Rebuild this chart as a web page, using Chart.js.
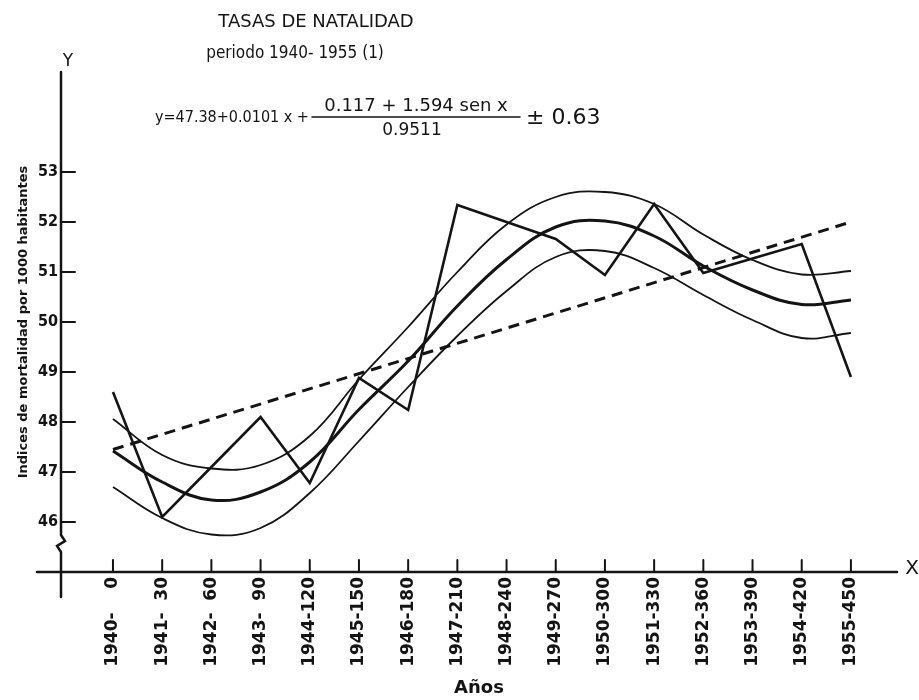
<!DOCTYPE html>
<html>
<head>
<meta charset="utf-8">
<script src="https://cdn.jsdelivr.net/npm/chart.js@4.4.1/dist/chart.umd.min.js"></script>
<style>
  html, body { margin: 0; padding: 0; background: #fff; }
  canvas { display: block; }
</style>
</head>
<body>
<canvas id="natalidad-chart" width="919" height="700"></canvas>
<script>
// valores
const years = ['1940', '1941', '1942', '1943', '1944', '1945', '1946', '1947', '1948', '1949', '1950', '1951', '1952', '1953', '1954', '1955'];
const xValues = [0, 30, 60, 90, 120, 150, 180, 210, 240, 270, 300, 330, 360, 390, 420, 450];
const observed = [48.6, 46.1, 47.1, 48.1, 46.78, 48.88, 48.24, 52.34, 52.0, 51.66, 50.94, 52.36, 50.98, 51.27, 51.56, 48.9];
const fitted = [47.42, 46.8, 46.44, 46.6, 47.2, 48.25, 49.22, 50.32, 51.25, 51.9, 52.02, 51.72, 51.12, 50.64, 50.35, 50.44];
const fittedUpper = [48.06, 47.34, 47.07, 47.14, 47.72, 48.85, 49.9, 51.0, 51.95, 52.5, 52.6, 52.36, 51.75, 51.24, 50.95, 51.02];
const fittedLower = [46.7, 46.08, 45.75, 45.88, 46.58, 47.62, 48.7, 49.72, 50.62, 51.3, 51.42, 51.08, 50.54, 50.04, 49.68, 49.78];
const trendX = [0, 450];
const trendY = [47.45, 52.0];
const yTicks = [46, 47, 48, 49, 50, 51, 52, 53];

const INK = '#141414';
const FONT = '"DejaVu Sans"';
const FONT_NARROW = '"DejaVu Sans Condensed", "DejaVu Sans"';

function points(xs, ys) {
	return xs.map((x, i) => ({ x: x, y: ys[i] }));
}

function tickLabel(i) {
	return years[i] + '-' + String(xValues[i]).padStart(3, '\u2007');
}

const ejes = {
	id: 'ejes',
	beforeDraw(chart) {
		const ctx = chart.ctx;
		ctx.save();
		ctx.fillStyle = '#fff';
		ctx.fillRect(0, 0, chart.width, chart.height);
		ctx.restore();
	},
	afterDraw(chart) {
		const { ctx, chartArea, scales: { x, y } } = chart;
		const ax = chartArea.left;
		const ay = y.getPixelForValue(45);
		ctx.save();
		ctx.strokeStyle = INK;
		ctx.fillStyle = INK;
		ctx.lineCap = 'round';

		// eje X
		ctx.lineWidth = 2.5;
		ctx.beginPath();
		ctx.moveTo(ax - 24, ay);
		ctx.lineTo(chartArea.right, ay);
		ctx.stroke();

		// eje Y con corte
		const zTop = y.getPixelForValue(45.74);
		const zBot = y.getPixelForValue(45.4);
		ctx.beginPath();
		ctx.moveTo(ax, chartArea.top);
		ctx.lineTo(ax, zTop);
		ctx.lineTo(ax + 4, zTop + 6);
		ctx.lineTo(ax - 4, zTop + 11);
		ctx.lineTo(ax, zBot);
		ctx.lineTo(ax, ay + 25);
		ctx.stroke();

		// marcas
		ctx.lineWidth = 2;
		xValues.forEach(v => {
			const px = x.getPixelForValue(v);
			ctx.beginPath();
			ctx.moveTo(px, ay);
			ctx.lineTo(px, ay - 12);
			ctx.stroke();
		});
		yTicks.forEach(v => {
			const py = y.getPixelForValue(v);
			ctx.beginPath();
			ctx.moveTo(ax, py);
			ctx.lineTo(ax + 14, py);
			ctx.stroke();
		});

		// letras de los ejes
		ctx.textAlign = 'center';
		ctx.textBaseline = 'middle';
		ctx.font = '17px ' + FONT;
		ctx.fillText('Y', ax + 7, chartArea.top - 10);
		ctx.font = '20px ' + FONT;
		ctx.fillText('X', chartArea.right + 15, ay - 3);

		// titulo y ecuacion
		ctx.textBaseline = 'alphabetic';
		ctx.font = '18px ' + FONT;
		ctx.fillText('TASAS DE NATALIDAD', 316, 27);
		ctx.font = '17px ' + FONT_NARROW;
		ctx.fillText('periodo 1940- 1955 (1)', 295, 58);

		ctx.textAlign = 'left';
		ctx.font = '16px ' + FONT_NARROW;
		ctx.fillText('y=47.38+0.0101 x +', 155, 122);
		ctx.font = '22px ' + FONT;
		ctx.fillText('\u00b1 0.63', 526, 124);
		ctx.textAlign = 'center';
		ctx.font = '18px ' + FONT;
		ctx.fillText('0.117 + 1.594 sen x', 416, 111);
		ctx.font = '17px ' + FONT;
		ctx.fillText('0.9511', 412, 135);
		ctx.lineWidth = 1.5;
		ctx.beginPath();
		ctx.moveTo(312, 117);
		ctx.lineTo(520, 117);
		ctx.stroke();
		ctx.restore();
	}
};

const config = {
	type: 'line',
	data: {
		datasets: [
			{ label: 'Tasa observada', data: points(xValues, observed), borderWidth: 2.6, tension: 0 },
			{ label: 'Curva ajustada', data: points(xValues, fitted), borderWidth: 3, tension: 0.4 },
			{ label: 'Limite superior', data: points(xValues, fittedUpper), borderWidth: 1.8, tension: 0.4 },
			{ label: 'Limite inferior', data: points(xValues, fittedLower), borderWidth: 1.8, tension: 0.4 },
			{ label: 'Tendencia', data: points(trendX, trendY), borderWidth: 3, borderDash: [11, 7], tension: 0 },
		]
	},
	options: {
		responsive: false,
		animation: false,
		devicePixelRatio: 1,
		borderColor: INK,
		elements: {
			line: { borderColor: INK, fill: false },
			point: { radius: 0, hoverRadius: 0 },
		},
		layout: {
			padding: { top: 72, right: 22, left: 0, bottom: 0 },
		},
		scales: {
			x: {
				type: 'linear',
				min: -31.7,
				max: 478.1,
				grid: { display: false, drawTicks: false },
				border: { display: false },
				afterBuildTicks: s => { s.ticks = xValues.map(v => ({ value: v })); },
				afterFit: s => { s.height = 128; },
				ticks: {
					autoSkip: false,
					minRotation: 90,
					maxRotation: 90,
					padding: 5,
					color: INK,
					font: { family: 'DejaVu Sans', size: 17, weight: 'bold' },
					callback: (value, index) => tickLabel(index),
				},
				title: {
					display: true,
					text: 'Años',
					color: INK,
					font: { family: 'DejaVu Sans', size: 18, weight: 'bold' },
					padding: { top: 0, bottom: 1 },
				},
			},
			y: {
				type: 'linear',
				min: 45,
				max: 55,
				grid: { display: false, drawTicks: false },
				border: { display: false },
				afterBuildTicks: s => { s.ticks = yTicks.map(v => ({ value: v })); },
				afterFit: s => { s.width = 61; },
				ticks: {
					padding: 3,
					color: INK,
					font: { family: 'DejaVu Sans Condensed', size: 16, weight: 'bold' },
				},
				title: {
					display: true,
					text: 'Indices de mortalidad por 1000 habitantes',
					color: INK,
					font: { family: 'DejaVu Sans', size: 13, weight: 'bold' },
					padding: { top: 16, bottom: 0 },
				},
			},
		},
		plugins: {
			legend: { display: false },
			tooltip: { enabled: false },
		},
	},
	plugins: [ejes],
};

new Chart(document.getElementById('natalidad-chart').getContext('2d'), config);
</script>
</body>
</html>
